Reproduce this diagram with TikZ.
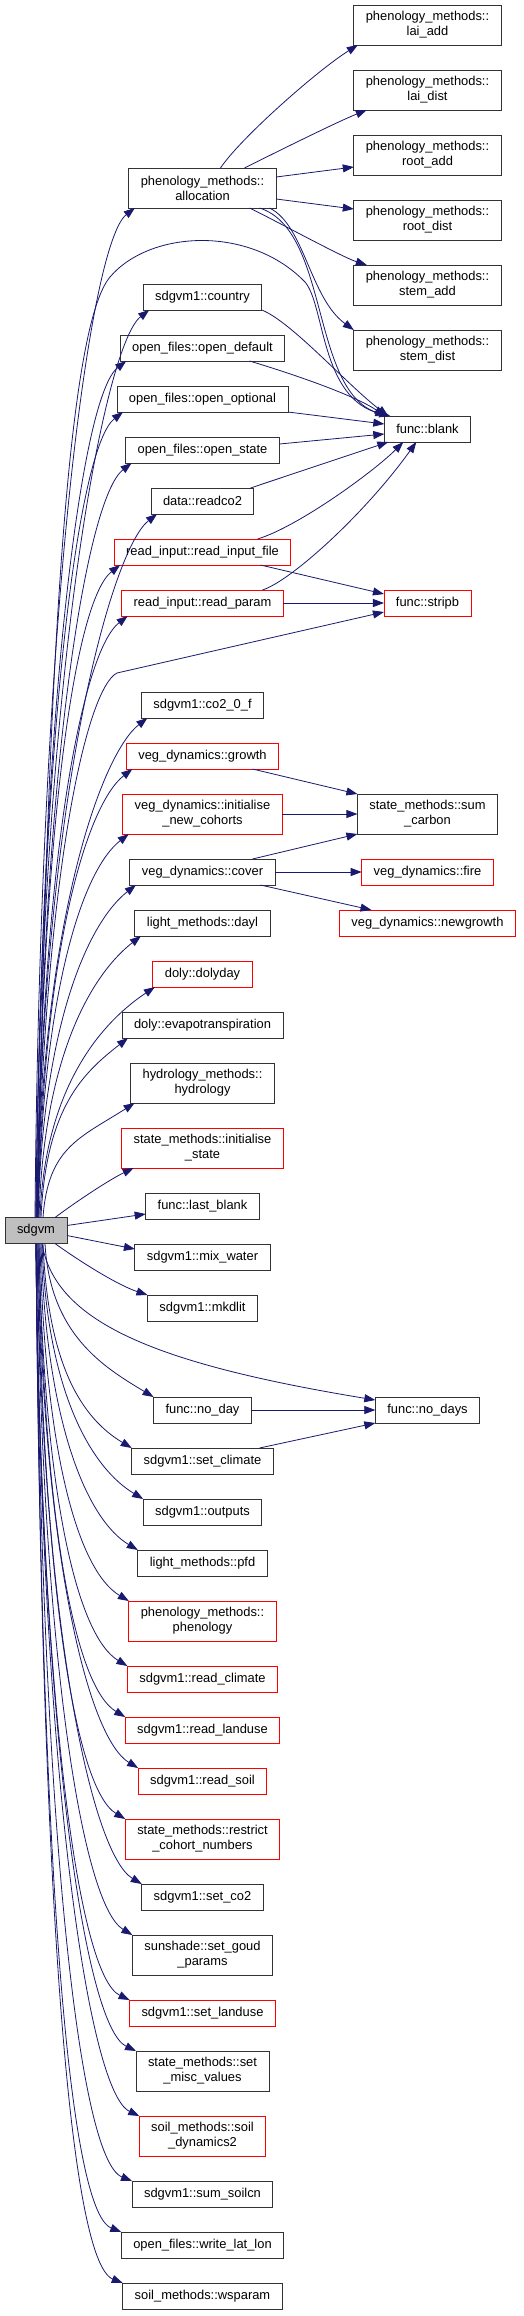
\documentclass[tikz,border=0pt]{standalone}
\usepackage{fontspec}
\setsansfont{Liberation Sans}
\usepackage{tikz}
\usetikzlibrary{arrows.meta,positioning}
\definecolor{edgeblue}{HTML}{191970}
\definecolor{rootgray}{HTML}{BFBFBF}
\definecolor{linkred}{HTML}{FF0000}
\definecolor{boxline}{HTML}{333333}
\tikzset{
  fn/.style={
    draw=boxline,fill=white,line width=.9pt,
    inner xsep=12pt,inner ysep=3pt,outer sep=0pt,
    minimum height=26pt,align=center,
    font=\sffamily\fontsize{12.9}{15}\selectfont
  },
  fnred/.style={fn,draw=linkred},
  tall/.style={minimum height=40pt},
  rootfn/.style={fn,fill=rootgray},
  call/.style={-{Triangle[length=11pt,width=8pt]},draw=edgeblue,line width=.8pt}
}
\begin{document}
\begin{tikzpicture}[x=1pt,y=-1pt,node distance=25pt]
\path[use as bounding box,fill=white] (0,0) rectangle (523,2316);

\node[fn,tall] (laiadd) at (427.5,25) {phenology\_methods::\\lai\_add};
\node[fn,tall,below=of laiadd] (laidist) {phenology\_methods::\\lai\_dist};
\node[fn,tall,below=of laidist] (rootadd) {phenology\_methods::\\root\_add};
\node[fn,tall,below=of rootadd] (rootdist) {phenology\_methods::\\root\_dist};
\node[fn,tall,below=of rootdist] (stemadd) {phenology\_methods::\\stem\_add};
\node[fn,tall,below=of stemadd] (stemdist) {phenology\_methods::\\stem\_dist};
\node[fn,below=46pt of stemdist] (blank) {func::blank};

\node[fn,tall] (allocation) at (202.5,188) {phenology\_methods::\\allocation};
\node[fn,below=76pt of allocation] (country) {sdgvm1::country};
\node[fn,below=of country] (opendefault) {open\_files::open\_default};
\node[fn,below=of opendefault] (openoptional) {open\_files::open\_optional};
\node[fn,below=of openoptional] (openstate) {open\_files::open\_state};
\node[fn,below=of openstate] (readco) {data::readco2};
\node[fnred,below=of readco] (readinput) {read\_input::read\_input\_file};
\node[fnred,below=of readinput] (readparam) {read\_input::read\_param};
\node[fn,below=76pt of readparam] (cozero) {sdgvm1::co2\_0\_f};
\node[fnred,below=of cozero] (growth) {veg\_dynamics::growth};
\node[fnred,tall,below=of growth] (initnew) {veg\_dynamics::initialise\\\_new\_cohorts};
\node[fn,below=of initnew] (cover) {veg\_dynamics::cover};
\node[fn,below=of cover] (dayl) {light\_methods::dayl};
\node[fnred,below=of dayl] (dolyday) {doly::dolyday};
\node[fn,below=of dolyday] (evapo) {doly::evapotranspiration};
\node[fn,tall,below=of evapo] (hydrology) {hydrology\_methods::\\hydrology};
\node[fnred,tall,below=of hydrology] (initstate) {state\_methods::initialise\\\_state};
\node[fn,below=of initstate] (lastblank) {func::last\_blank};
\node[fn,below=of lastblank] (mixwater) {sdgvm1::mix\_water};
\node[fn,below=of mixwater] (mkdlit) {sdgvm1::mkdlit};
\node[fn,below=76pt of mkdlit] (noday) {func::no\_day};
\node[fn,below=of noday] (setclimate) {sdgvm1::set\_climate};
\node[fn,below=of setclimate] (outputs) {sdgvm1::outputs};
\node[fn,below=of outputs] (pfd) {light\_methods::pfd};
\node[fnred,tall,below=of pfd] (phenology) {phenology\_methods::\\phenology};
\node[fnred,below=of phenology] (readclimate) {sdgvm1::read\_climate};
\node[fnred,below=of readclimate] (readlanduse) {sdgvm1::read\_landuse};
\node[fnred,below=of readlanduse] (readsoil) {sdgvm1::read\_soil};
\node[fnred,tall,below=of readsoil] (restrict) {state\_methods::restrict\\\_cohort\_numbers};
\node[fn,below=of restrict] (setco) {sdgvm1::set\_co2};
\node[fn,tall,below=of setco] (goud) {sunshade::set\_goud\\\_params};
\node[fnred,below=of goud] (setlanduse) {sdgvm1::set\_landuse};
\node[fn,tall,below=of setlanduse] (misc) {state\_methods::set\\\_misc\_values};
\node[fnred,tall,below=of misc] (soildyn) {soil\_methods::soil\\\_dynamics2};
\node[fn,below=of soildyn] (sumsoilcn) {sdgvm1::sum\_soilcn};
\node[fn,below=of sumsoilcn] (writelatlon) {open\_files::write\_lat\_lon};
\node[fn,below=of writelatlon] (wsparam) {soil\_methods::wsparam};

\node[fnred] (stripb) at (readparam -| blank) {func::stripb};
\node[fn,tall] (sumcarbon) at (initnew -| blank) {state\_methods::sum\\\_carbon};
\node[fnred] (fire) at (cover -| blank) {veg\_dynamics::fire};
\node[fnred] (newgrowth) at (dayl -| blank) {veg\_dynamics::newgrowth};
\node[fn] (nodays) at (noday -| blank) {func::no\_days};

\node[rootfn] (sdgvm) at (36,1230.5) {sdgvm};

\draw[call] ([xshift=18pt]allocation.north) .. controls +(20,-30) and +(-40,25) .. ([xshift=4pt]laiadd.south west);
\draw[call] ([xshift=42pt]allocation.north) .. controls +(30,-15) and +(-30,12) .. ([xshift=13pt]laidist.south west);
\draw[call] ([yshift=11pt]allocation.east) -- ([yshift=-12pt]rootadd.west);
\draw[call] ([yshift=-11pt]allocation.east) -- ([yshift=11pt]rootdist.west);
\draw[call] ([xshift=47pt]allocation.south) .. controls +(25,12) and +(-25,-8) .. ([xshift=13pt]stemadd.north west);
\draw[call] ([xshift=67pt]allocation.south) .. controls +(35,17) and +(-44,-32) .. (stemdist.north west);
\draw[call] ([xshift=57pt]allocation.south) .. controls +(70,22) and +(-76,-27) .. ([xshift=2pt]blank.north west);

\draw[call] (country.south east) .. controls +(30,12) and +(-40,-30) .. ([xshift=4pt]blank.north west);
\draw[call] ([xshift=47pt]opendefault.south) .. controls +(50,15) and +(-30,-20) .. ([xshift=1pt]blank.north west);
\draw[call] (openoptional.south east) -- ([yshift=5pt]blank.west);
\draw[call] ([yshift=6pt]openstate.east) -- ([yshift=-5pt]blank.west);
\draw[call] ([xshift=48pt]readco.north) -- ([xshift=4pt]blank.south west);
\draw[call] ([xshift=55pt]readinput.north) .. controls +(40,-12) and +(-30,30) .. ([xshift=19pt]blank.south west);
\draw[call] ([xshift=60pt]readparam.north) .. controls +(30,-10) and +(-50,70) .. ([xshift=32pt]blank.south west);
\draw[call] ([xshift=58pt]readinput.south) -- ([yshift=9pt]stripb.west);
\draw[call] (readparam.east) -- (stripb.west);

\draw[call] ([xshift=50pt]growth.south) -- (sumcarbon.north west);
\draw[call] (initnew.east) -- (sumcarbon.west);
\draw[call] ([xshift=50pt]cover.north) -- (sumcarbon.south west);
\draw[call] (cover.east) -- (fire.west);
\draw[call] ([xshift=58pt]cover.south) -- ([xshift=32pt]newgrowth.north west);
\draw[call] (noday.east) -- (nodays.west);
\draw[call] ([xshift=57pt]setclimate.north) -- (nodays.south west);

\draw[call] ([xshift=-1pt]sdgvm.north) .. controls +(5,-606) and +(-45,35) .. ([xshift=6pt]allocation.south west);
\draw[call] ([xshift=2pt]sdgvm.north) .. controls +(10,-620) and +(-38,45) .. (110,277)
  .. controls +(40,-47) and +(-55,-57) .. (305,282)
  .. controls +(20,23) and +(-70,-17) .. ([xshift=6pt]blank.north west);
\draw[call] (sdgvm.north) .. controls +(5,-545) and +(-45,35) .. ([xshift=6pt]country.south west);
\draw[call] (sdgvm.north) .. controls +(5,-514) and +(-45,35) .. ([xshift=6pt]opendefault.south west);
\draw[call] (sdgvm.north) .. controls +(5,-484) and +(-45,35) .. ([xshift=6pt]openoptional.south west);
\draw[call] ([xshift=1pt]sdgvm.north) .. controls +(5,-454) and +(-45,35) .. ([xshift=6pt]openstate.south west);
\draw[call] ([xshift=1pt]sdgvm.north) .. controls +(5,-423) and +(-45,35) .. ([xshift=6pt]readco.south west);
\draw[call] ([xshift=1pt]sdgvm.north) .. controls +(5,-393) and +(-45,35) .. ([xshift=6pt]readinput.south west);
\draw[call] ([xshift=1pt]sdgvm.north) .. controls +(5,-362) and +(-45,35) .. ([xshift=6pt]readparam.south west);
\draw[call] ([xshift=1pt]sdgvm.north) .. controls +(8,-350) and +(-30,15) .. (117,673) -- ([yshift=-9pt]stripb.west);
\draw[call] ([xshift=1pt]sdgvm.north) .. controls +(5,-302) and +(-45,35) .. ([xshift=6pt]cozero.south west);
\draw[call] ([xshift=2pt]sdgvm.north) .. controls +(5,-271) and +(-45,35) .. ([xshift=6pt]growth.south west);
\draw[call] ([xshift=2pt]sdgvm.north) .. controls +(5,-232) and +(-45,35) .. ([xshift=6pt]initnew.south west);
\draw[call] ([xshift=2pt]sdgvm.north) .. controls +(5,-201) and +(-45,35) .. ([xshift=6pt]cover.south west);
\draw[call] ([xshift=3pt]sdgvm.north) .. controls +(5,-170) and +(-45,35) .. ([xshift=6pt]dayl.south west);
\draw[call] ([xshift=4pt]sdgvm.north) .. controls +(5,-140) and +(-45,30) .. ([xshift=2pt]dolyday.south west);
\draw[call] ([xshift=5pt]sdgvm.north) .. controls +(5,-110) and +(-45,35) .. ([xshift=6pt]evapo.south west);
\draw[call] ([xshift=7pt]sdgvm.north) .. controls +(5,-70) and +(-55,35) .. ([xshift=4pt]hydrology.south west);
\draw[call] ([xshift=19pt]sdgvm.north) .. controls +(20,-15) and +(-25,12) .. ([xshift=12pt]initstate.south west);
\draw[call] ([yshift=5pt]sdgvm.east) -- ([yshift=-8pt]lastblank.west);
\draw[call] ([yshift=-5pt]sdgvm.east) -- ([yshift=8pt]mixwater.west);
\draw[call] ([xshift=19pt]sdgvm.south) .. controls +(25,18) and +(-30,-10) .. (mkdlit.north west);
\draw[call] ([xshift=6pt]sdgvm.south) .. controls +(13,77) and +(-225,-37) .. ([yshift=-3pt]nodays.north west);
\draw[call] ([xshift=9pt]sdgvm.south) .. controls +(5,91) and +(-50,-30) .. (noday.north west);
\draw[call] ([xshift=7pt]sdgvm.south) .. controls +(5,122) and +(-50,-30) .. (setclimate.north west);
\draw[call] ([xshift=6pt]sdgvm.south) .. controls +(5,152) and +(-50,-30) .. (outputs.north west);
\draw[call] ([xshift=5pt]sdgvm.south) .. controls +(5,182) and +(-50,-30) .. (pfd.north west);
\draw[call] ([xshift=4pt]sdgvm.south) .. controls +(5,213) and +(-50,-30) .. (phenology.north west);
\draw[call] ([xshift=3pt]sdgvm.south) .. controls +(5,253) and +(-50,-30) .. (readclimate.north west);
\draw[call] ([xshift=3pt]sdgvm.south) .. controls +(5,283) and +(-50,-30) .. (readlanduse.north west);
\draw[call] ([xshift=2pt]sdgvm.south) .. controls +(5,313) and +(-50,-30) .. (readsoil.north west);
\draw[call] ([xshift=2pt]sdgvm.south) .. controls +(5,344) and +(-50,-30) .. (restrict.north west);
\draw[call] ([xshift=1pt]sdgvm.south) .. controls +(5,384) and +(-50,-30) .. (setco.north west);
\draw[call] ([xshift=1pt]sdgvm.south) .. controls +(5,415) and +(-50,-30) .. (goud.north west);
\draw[call] (sdgvm.south) .. controls +(5,454) and +(-52,-25) .. (setlanduse.north west);
\draw[call] (sdgvm.south) .. controls +(5,485) and +(-52,-25) .. (misc.north west);
\draw[call] (sdgvm.south) .. controls +(5,524) and +(-52,-25) .. (soildyn.north west);
\draw[call] (sdgvm.south) .. controls +(5,564) and +(-55,-22) .. (sumsoilcn.north west);
\draw[call] (sdgvm.south) .. controls +(5,595) and +(-55,-22) .. (writelatlon.north west);
\draw[call] (sdgvm.south) .. controls +(5,625) and +(-55,-22) .. (wsparam.north west);
\end{tikzpicture}
\end{document}
